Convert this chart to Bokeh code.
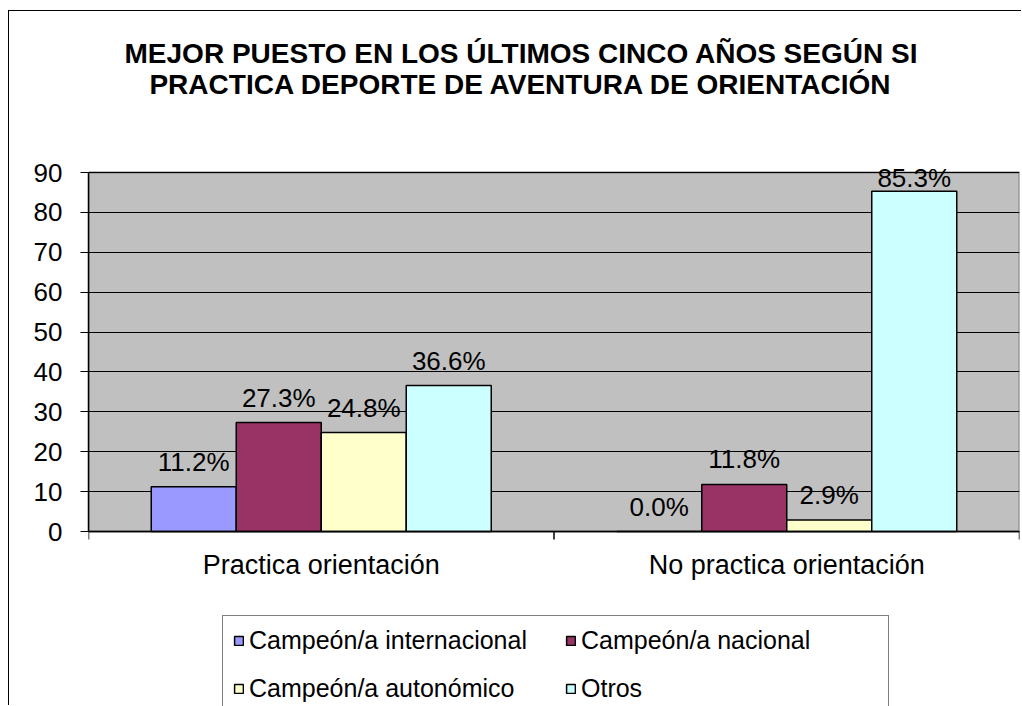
from bokeh.plotting import figure
from bokeh.models import (ColumnDataSource, Range1d, FixedTicker, Legend, LegendItem,
                          LabelSet, Label, BoxAnnotation, Span)
from bokeh.core.properties import value
from bokeh.embed import file_html
from bokeh.resources import INLINE

# ---- data ----
categories = ["Practica orientación", "No practica orientación"]
series = ["Campeón/a internacional", "Campeón/a nacional", "Campeón/a autonómico", "Otros"]
internacional = [11.2, 0.0]
nacional = [27.3, 11.8]
autonomico = [24.8, 2.9]
otros = [36.6, 85.3]
y_ticks = [0, 10, 20, 30, 40, 50, 60, 70, 80, 90]
title_lines = ["MEJOR PUESTO EN LOS ÚLTIMOS CINCO AÑOS SEGÚN SI",
               "PRACTICA DEPORTE DE AVENTURA DE ORIENTACIÓN"]

values = [internacional, nacional, autonomico, otros]
colors = ["#9999FF", "#993366", "#FFFFCC", "#CCFFFF"]
FONT = "Liberation Sans"

# ---- layout (page pixels) ----
W, H = 1013, 695
ORIGIN_X, ORIGIN_Y = 9, 11            # canvas origin on the page (margin + border)
PL, PR, PT, PB = 88, 1019, 172, 531   # gray plot area on the page
ymax = y_ticks[-1]
ncat = len(categories)
ppu = (PB - PT) / ymax
ppx = (PR - PL) / ncat
y_start = -(ORIGIN_Y + H - PB) / ppu
y_end = ymax + (PT - ORIGIN_Y) / ppu


def dy(page_y):
    return (PB - page_y) / ppu


def dx(page_x):
    return (page_x - PL) / ppx


p = figure(width=W, height=H, x_range=Range1d(0, ncat), y_range=Range1d(y_start, y_end),
           output_backend="svg", toolbar_location=None, x_axis_location=None,
           min_border_left=PL - ORIGIN_X, min_border_right=ORIGIN_X + W - PR,
           min_border_top=0, min_border_bottom=0)
p.styles = {"margin-left": "8px", "margin-top": "10px",
            "border-left": "1px solid #000000", "border-top": "1px solid #000000"}
p.background_fill_color = "#FFFFFF"
p.border_fill_color = "#FFFFFF"
p.outline_line_color = None
p.xgrid.grid_line_color = None

# gray plot area
p.add_layout(BoxAnnotation(left=0, right=ncat, bottom=0, top=ymax, level="image",
                           fill_color="#C0C0C0", fill_alpha=1.0,
                           line_color="#808080", line_width=2, line_alpha=1.0))

# y axis
ya = p.yaxis[0]
ya.bounds = (0, ymax)
ya.ticker = FixedTicker(ticks=y_ticks)
ya.major_label_text_font = FONT
ya.major_label_text_font_size = "26px"
ya.major_label_text_color = "#000000"
ya.major_label_standoff = 18
ya.major_tick_in = 0
ya.major_tick_out = 8
ya.major_tick_line_color = "#000000"
ya.minor_tick_line_color = None
ya.axis_line_color = "#000000"
ya.axis_line_width = 1.5

p.ygrid.ticker = FixedTicker(ticks=y_ticks)
p.ygrid.bounds = (0, ymax)
p.ygrid.grid_line_color = "#000000"
p.ygrid.grid_line_width = 1

# x axis line, edge ticks and category labels
p.add_layout(Span(location=0, dimension="width", line_color="#000000", line_width=1.5))
edges = list(range(ncat + 1))
p.segment(x0=edges, x1=edges, y0=[0] * len(edges), y1=[dy(PB + 8)] * len(edges),
          line_color="#000000", line_width=1.5)
centers = [i + 0.5 for i in range(ncat)]
cat_src = ColumnDataSource(dict(x=centers, y=[dy(573)] * ncat, t=categories))
p.add_layout(LabelSet(x="x", y="y", text="t", source=cat_src, text_align="center",
                      text_baseline="alphabetic", text_font=value(FONT),
                      text_font_size=value("27px"), text_color="#000000"))

# bars
bar_w = 85 / ppx
n = len(series)
renderers = []
for i, (name, vals, col) in enumerate(zip(series, values, colors)):
    off = (i - (n - 1) / 2) * bar_w
    xs = [c + off for c in centers]
    label_y = [min(v + 16 / ppu, ymax - 14 / ppu) for v in vals]
    src = ColumnDataSource(dict(x=xs, top=vals,
                                label=[f"{v:.1f}%" for v in vals], ly=label_y))
    r = p.vbar(x="x", top="top", width=bar_w, source=src,
               fill_color=col, line_color="#000000", line_width=1.5)
    renderers.append(r)
    p.add_layout(LabelSet(x="x", y="ly", text="label", source=src,
                          text_align="center", text_baseline="alphabetic", text_font=value(FONT),
                          text_font_size=value("26px"), text_color="#000000"))

# title: two centered lines
for txt, base in zip(title_lines, [53, 84]):
    p.add_layout(Label(x=dx(521), y=dy(base), text=txt, text_align="center",
                       text_baseline="alphabetic", text_font=FONT, text_font_size="28px",
                       text_font_style="bold", text_color="#000000"))

legend = Legend(items=[LegendItem(label=s, renderers=[r]) for s, r in zip(series, renderers)],
                ncols=2, orientation="horizontal",
                location=(222 - PL, (ORIGIN_Y + H) - 714),
                label_text_font=FONT, label_text_font_size="25px", label_text_color="#000000",
                glyph_width=11, glyph_height=11, label_standoff=5, label_width=297,
                label_height=24, spacing=19, padding=10, margin=0,
                border_line_color="#000000", border_line_width=1,
                background_fill_color="#FFFFFF", background_fill_alpha=1.0)
p.add_layout(legend)

open("out.html", "w").write(file_html(p, INLINE))
